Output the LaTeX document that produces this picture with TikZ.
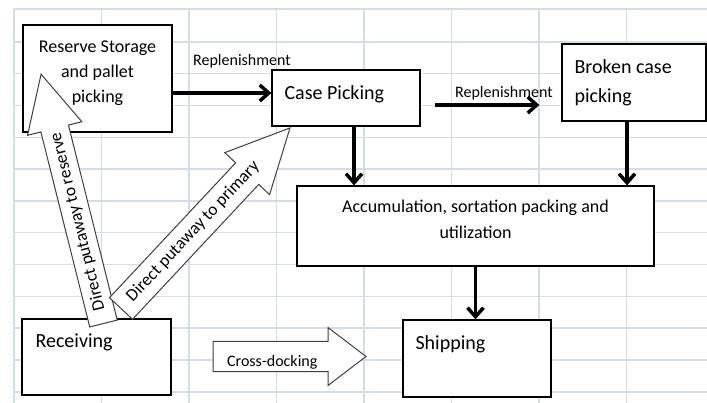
\documentclass[tikz,border=0pt]{standalone}
\usepackage{fontspec}
\setmainfont{Carlito}
\usetikzlibrary{arrows.meta}
\definecolor{gridline}{RGB}{212,219,233}
\definecolor{outline}{RGB}{64,64,64}

\begin{document}
\begin{tikzpicture}[x=1pt, y=-1pt,
    box/.style={draw, fill=white, line width=1.3pt, inner sep=0pt},
    boxtext/.style={inner sep=0pt, font=\fontsize{20}{29}\selectfont},
    flow/.style={line width=3.5pt, -{Straight Barb[length=9pt, width=16pt]}},
    block/.style={draw=outline, fill=white, line width=1pt},
    tag/.style={inner sep=0pt, font=\fontsize{16}{19}\selectfont}]

    \useasboundingbox (0,0) rectangle (707,403);

    % Grid
    \foreach \i in {0,...,7} {
        \draw[gridline, line width=1.4pt] (14+87.5*\i, 9) -- (14+87.5*\i, 403);
    }
    \draw[gridline, line width=1.4pt] (14,9) -- (707,9);
    \foreach \j in {0,...,11} {
        \draw[gridline, line width=1.4pt] (14, 42+31.8*\j) -- (707, 42+31.8*\j);
    }

    % Boxes
    \node (reserve) [box, minimum width=149pt, minimum height=107pt] at (97.5,78.5) {};
    \node (case) [box, minimum width=148pt, minimum height=56pt] at (346,98) {};
    \node (broken) [box, minimum width=144pt, minimum height=77pt] at (634,82.5) {};
    \node (accum) [box, minimum width=357pt, minimum height=80pt] at (475.5,226) {};
    \node (receiving) [box, minimum width=149pt, minimum height=76pt] at (96.5,357) {};
    \node (shipping) [box, minimum width=148pt, minimum height=77pt] at (477,358.5) {};

    % Box texts (base anchor sits on the last line)
    \node (reservetxt) [boxtext, font=\fontsize{18}{25}\selectfont, align=center, anchor=base] at ([yshift=-77.7pt]reserve.north) {Reserve Storage\\and pallet\\picking};
    \node (casetxt) [boxtext, anchor=base west] at ([xshift=13pt, yshift=-30pt]case.north west) {Case Picking};
    \node (brokentxt) [boxtext, align=left, anchor=base west] at ([xshift=13pt, yshift=-59pt]broken.north west) {Broken case\\picking};
    \node (accumtxt) [boxtext, font=\fontsize{18}{26}\selectfont, align=center, anchor=base] at ([yshift=-53pt]accum.north) {Accumulation, sortation packing and\\utilization};
    \node (receivingtxt) [boxtext, anchor=base west] at ([xshift=14pt, yshift=-29pt]receiving.north west) {Receiving};
    \node (shippingtxt) [boxtext, anchor=base west] at ([xshift=13pt, yshift=-30pt]shipping.north west) {Shipping};

    % Arrows
    \draw[flow] ([yshift=-14.5pt]reserve.east) -- ([yshift=5pt]case.west);
    \draw[flow] ([xshift=14pt, yshift=-7pt]case.east) -- ([xshift=-22pt, yshift=-22.5pt]broken.west);
    \draw[flow] ([xshift=8pt]case.south) -- ([xshift=8pt]case.south |- accum.north);
    \draw[flow] ([xshift=-7pt]broken.south) -- ([xshift=-7pt]broken.south |- accum.north);
    \draw[flow] (accum.south) -- (accum.south |- shipping.north);

    % Arrow labels
    \node (rep1) [tag, anchor=base west] at (193,66) {Replenishment};
    \node (rep2) [tag, anchor=base west] at (455,97.3) {Replenishment};

    % Block arrows
    \begin{scope}[shift={(103.5,323.5)}, rotate=104.06]
        \draw[block] (0,-14.2) -- (201,-14.2) -- (201,-28) -- (257,0) -- (201,28) -- (201,14.2) -- (0,14.2) -- cycle;
    \end{scope}
    \begin{scope}[shift={(121,308.5)}, rotate=46.9]
        \draw[block] (0,-15.8) -- (184.7,-15.8) -- (184.7,-30.7) -- (247.3,0) -- (184.7,30.7) -- (184.7,15.8) -- (0,15.8) -- cycle;
    \end{scope}
    \draw[block] (213,341.5) -- (328,341.5) -- (328,327.5) -- (366,356.5) -- (328,385.5) -- (328,371.5) -- (213,371.5) -- cycle;

    \node (toreserve) [tag, font=\fontsize{17.5}{20}\selectfont, rotate=104.06] at (78,221.6) {Direct putaway to reserve};
    \node (toprimary) [tag, font=\fontsize{17.5}{20}\selectfont, rotate=46.9] at (193.1,231.5) {Direct putaway to primary};
    \node (crossdock) [tag, anchor=base west] at (227,366.7) {Cross-docking};

\end{tikzpicture}
\end{document}
